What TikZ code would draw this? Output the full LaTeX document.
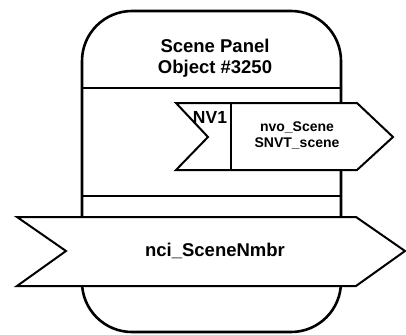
\documentclass[tikz,border=0pt]{standalone}
\usepackage{fontspec}
\setmainfont{Liberation Sans}
\begin{document}
\begin{tikzpicture}[x=1pt,y=-1pt,
  outline/.style={draw=black,line width=2.6pt},
  sep/.style={draw=black,line width=2.4pt},
  arrowshape/.style={draw=black,fill=white,line width=2pt,line join=miter},
  lbl/.style={font=\bfseries\fontsize{18.5}{21}\selectfont,align=center,inner sep=0pt},
  small/.style={font=\bfseries\fontsize{14}{15.5}\selectfont,align=center,inner sep=0pt}]
\useasboundingbox (0,0) rectangle (406,334);
% object box
\draw[outline,rounded corners=50pt] (82,11) rectangle (341,332);
\draw[sep] (82,88) -- (341,88);
\draw[sep] (82,196) -- (341,196);
% output arrow
\draw[arrowshape] (176,103) -- (357,103) -- (393,137) -- (357,170) -- (176,170) -- (208,137) -- cycle;
\draw[line width=1.6pt] (231,103) -- (231,170);
% input arrow
\draw[arrowshape] (17,217) -- (356,217) -- (405,251) -- (356,286) -- (17,286) -- (66,251) -- cycle;
% texts
\node[lbl] (title) at (215,58) {Scene Panel\\Object \#3250};
\node[lbl,font=\bfseries\fontsize{17.5}{20}\selectfont] (nv1) at (210,117) {NV1};
\node[small] (nvo) at (297,135.5) {nvo\_Scene\\SNVT\_scene};
\node[lbl] (nci) at (215,251) {nci\_SceneNmbr};
\end{tikzpicture}
\end{document}
